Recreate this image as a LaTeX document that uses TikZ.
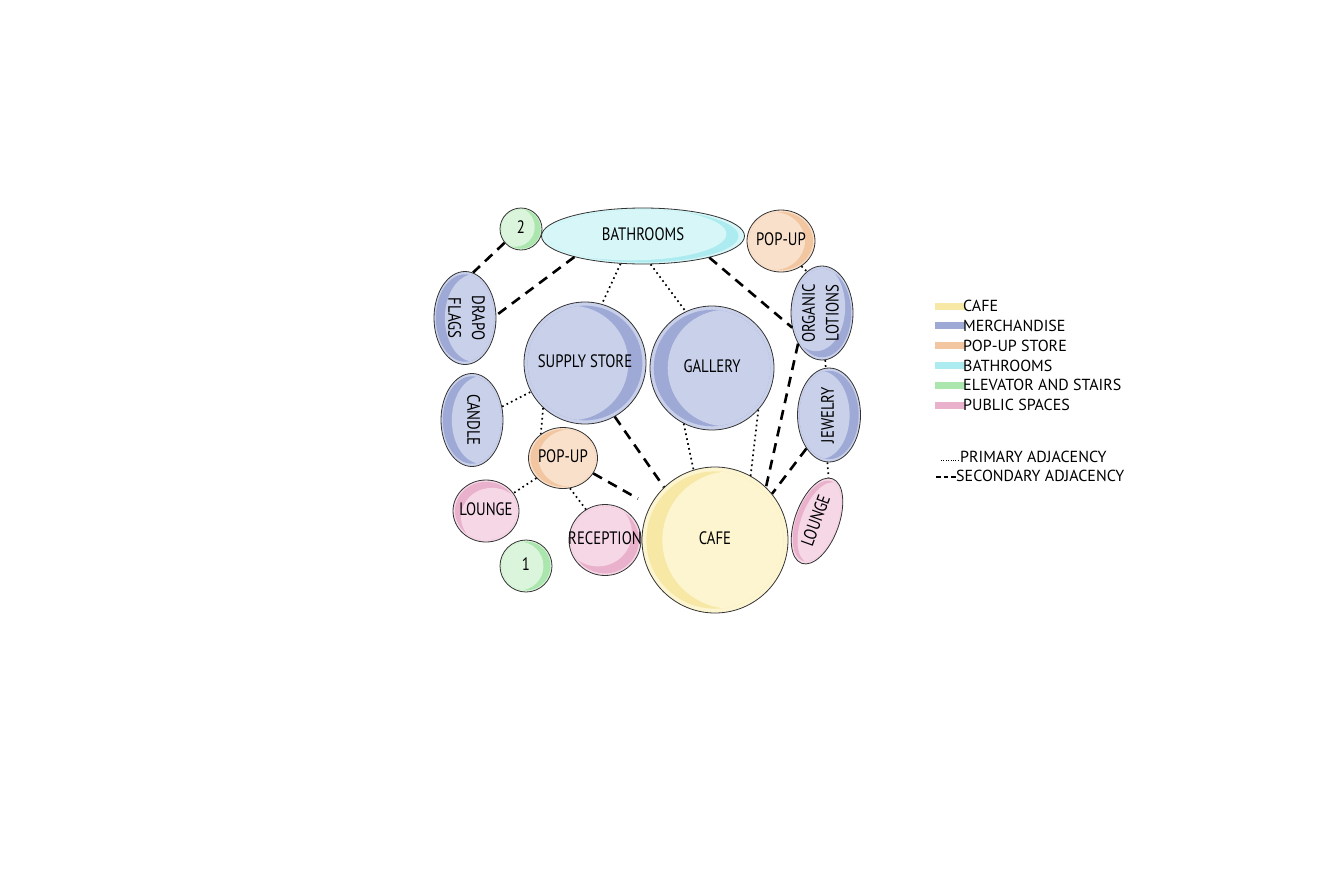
\documentclass[tikz,border=0pt]{standalone}
\usepackage{fontspec}
\setmainfont{PT Sans}
\newfontfamily\condfont{PT Sans}[FakeStretch=0.82]
\usepackage{tikz}
\usetikzlibrary{shapes.geometric}
\definecolor{cafe}{HTML}{FCF5D0}
\definecolor{cafedark}{HTML}{F7E8A6}
\definecolor{merch}{HTML}{C9D0EA}
\definecolor{merchdark}{HTML}{9EA9D6}
\definecolor{popup}{HTML}{F9E0CA}
\definecolor{popupdark}{HTML}{F2C6A0}
\definecolor{bath}{HTML}{D6F6F8}
\definecolor{bathdark}{HTML}{ACEBEF}
\definecolor{lift}{HTML}{DAF5DB}
\definecolor{liftdark}{HTML}{ABE6AE}
\definecolor{pub}{HTML}{F5D7E6}
\definecolor{pubdark}{HTML}{E9B1CC}
\newcommand{\labfont}{\condfont\fontsize{18}{19}\selectfont}
\newcommand{\legfont}{\fontsize{16}{16}\selectfont}
\renewcommand{\arraystretch}{1.25}
\tikzset{
  bubble/.style={ellipse, draw=black!80, line width=0.8pt, inner sep=0pt, font=\labfont},
  first/.style={line width=1.7pt, dash pattern=on 1.7pt off 3.3pt},
  second/.style={line width=2.6pt, dash pattern=on 10pt off 7pt},
  legtext/.style={anchor=west, inner sep=0pt, font=\legfont},
}
% bubble: name, centre, x radius, y radius, tilt, colour, offset of the light part, text angle, text
\newcommand{\bubble}[9]{%
  \begin{scope}[shift={#2}, rotate=#5]
    \fill[#6] (0,0) ellipse ({#3} and {#4});
    \clip (0,0) ellipse ({0.94*#3} and {0.94*#4});
    \fill[#6dark] (0,0) ellipse ({#3} and {#4});
    \fill[#6] #7 ellipse ({0.94*#3} and {0.94*#4});
  \end{scope}
  \node[bubble, minimum width={2*#3}, minimum height={2*#4}, rotate=#5] (#1) at #2
    {\makebox[0pt]{\rotatebox{#8}{\begin{tabular}{@{}c@{}}#9\end{tabular}}}};
}

\begin{document}
\begin{tikzpicture}[x=1pt, y=-1pt]
    \fill[white] (0,0) rectangle (1322,881);

    % Bubbles
    \bubble{bath}{(643,236)}{101.5}{28}{0}{bath}{(-12,-2)}{0}{BATHROOMS}
    \bubble{two}{(521,229)}{21}{21}{0}{lift}{(-6,-2)}{0}{2}
    \bubble{popT}{(781,241)}{34}{31}{0}{popup}{(-8,0)}{0}{POP-UP}
    \bubble{drapo}{(465,318)}{31}{46.5}{0}{merch}{(9,0)}{-90}{DRAPO\\FLAGS}
    \bubble{supply}{(585,363)}{61}{61}{0}{merch}{(-14,0)}{0}{SUPPLY STORE}
    \bubble{gallery}{(712,368)}{62}{62}{0}{merch}{(14,0)}{0}{GALLERY}
    \bubble{organic}{(822,313)}{31}{47}{0}{merch}{(-6,-6)}{90}{ORGANIC\\LOTIONS}
    \bubble{candle}{(472,420)}{31}{46.5}{0}{merch}{(9,0)}{-90}{CANDLE}
    \bubble{jewelry}{(829,415)}{31.5}{47}{0}{merch}{(-9,0)}{90}{JEWELRY}
    \bubble{popM}{(563,458)}{34.5}{30.5}{0}{popup}{(8,0)}{0}{POP-UP}
    \bubble{loungeL}{(486,511)}{33}{31}{0}{pub}{(6,6)}{0}{LOUNGE}
    \bubble{recep}{(605,540)}{36}{35.5}{0}{pub}{(-7,-7)}{0}{RECEPTION}
    \bubble{one}{(526,566)}{26}{26}{0}{lift}{(-7,0)}{0}{1}
    \bubble{cafe}{(715,540)}{73}{73}{0}{cafe}{(16,0)}{0}{CAFE}
    \bubble{loungeR}{(817,521)}{22}{45}{-20}{pub}{(5,0)}{90}{LOUNGE}

    % Secondary adjacency
    \draw[second] (two.220) -- (drapo.80);
    \draw[second] (bath.197) -- (drapo.5);
    \draw[second] (bath.342) -- (organic.206);
    \draw[second] (supply.299) -- (cafe.134);
    \draw[second, shorten >=14pt] (popM.333) -- (cafe.152);
    \draw[second] (organic.232) -- (cafe.46);
    \draw[second] (jewelry.236) -- (cafe.39);

    % Primary adjacency
    \draw[first] (bath.231) -- (supply.74);
    \draw[first] (bath.285) -- (gallery.115);
    \draw[first] (popT.309) -- (organic.110);
    \draw[first] (organic.274) -- (jewelry.94);
    \draw[first] (jewelry.268) -- (loungeR.95);
    \draw[first] (candle.24) -- (supply.208);
    \draw[first] (supply.227) -- (popM.133);
    \draw[first] (popM.217) -- (loungeL.33);
    \draw[first] (popM.283) -- (recep.122);
    \draw[first] (gallery.243) -- (cafe.107);
    \draw[first] (gallery.318) -- (cafe.61);

    % Legend
    \foreach \c/\t [count=\i from 0] in {
        cafedark/CAFE,
        merchdark/MERCHANDISE,
        popupdark/POP-UP STORE,
        bathdark/BATHROOMS,
        liftdark/ELEVATOR AND STAIRS,
        pubdark/PUBLIC SPACES
    } {
        \pgfmathsetmacro\yy{306+19.8*\i}
        \fill[\c] (935,\yy-3.5) rectangle (965,\yy+3.5);
        \node[legtext] (leg\i) at (963,\yy) {\t};
    }

    \node[legtext] (prim) at (960,457) {PRIMARY ADJACENCY};
    \node[legtext] (sec) at (956,476) {SECONDARY ADJACENCY};
    \coordinate (primkey) at (941,460);
    \coordinate (seckey) at (936,477);
    \draw[line width=0.8pt, dash pattern=on 1pt off 1.4pt] (primkey) -- ([yshift=-3pt]prim.west);
    \draw[line width=1.4pt, dash pattern=on 4.5pt off 3pt] (seckey) -- ([yshift=-1pt]sec.west);
\end{tikzpicture}
\end{document}
